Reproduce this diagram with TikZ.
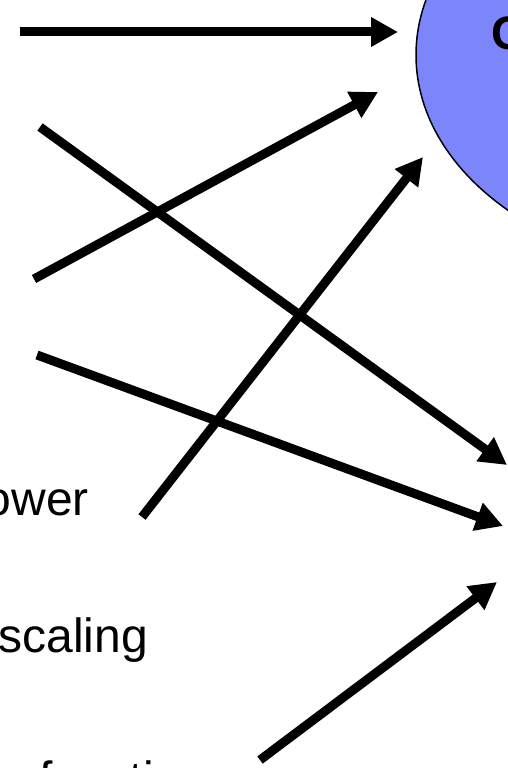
\documentclass[tikz,border=0pt]{standalone}
\usepackage{fontspec}
\setmainfont{Liberation Sans}
\usepackage{xcolor}
\usepackage{tikz}
\usetikzlibrary{arrows.meta, positioning}
\definecolor{lilas}{RGB}{125,133,250}

\begin{document}
\begin{tikzpicture}[x=1pt, y=-1pt,
            seta/.style={line width=9pt, -{Triangle[length=27pt, width=28pt]}},
            texto/.style={font=\fontsize{48}{58}\selectfont, inner sep=0pt}
        ]
            \useasboundingbox (0,0) rectangle (508,768);
            \clip (0,0) rectangle (508,768);

            % Bloco central (elipse cortada pela margem)
            \draw[fill=lilas, line width=1.5pt] (728,55) ellipse [x radius=312pt, y radius=219pt];
            \node[texto, font=\fontsize{47}{56}\selectfont\bfseries, anchor=base west] (bloco) at (491,50) {C};

            % Rótulos à esquerda
            \node[texto, anchor=base east] (power) at (89,515) {power};
            \node[texto, anchor=base east] (scaling) at (148,652) {scaling};
            \node[texto, anchor=base west] (function) at (39,795) {function};

            % Pontas das setas
            \coordinate (a1) at (20,32);   \coordinate (b1) at (398,32);
            \coordinate (a2) at (40,127);  \coordinate (b2) at (507,465);
            \coordinate (a3) at (34,279);  \coordinate (b3) at (378,92);
            \coordinate (a4) at (37,355);  \coordinate (b4) at (503,526);
            \coordinate (a5) at (142,517); \coordinate (b5) at (423,157);
            \coordinate (a6) at (260,760); \coordinate (b6) at (497,582);

            % Setas
            \foreach \i in {1,...,6}
                \draw[seta] (a\i) -- (b\i);
        \end{tikzpicture}
\end{document}
